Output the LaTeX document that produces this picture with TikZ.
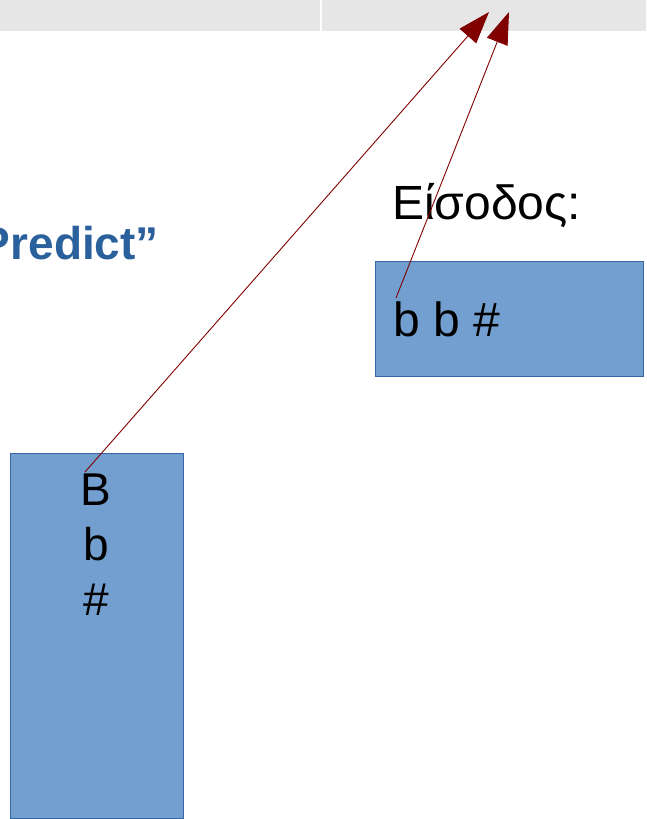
\documentclass[tikz,border=0pt]{standalone}
\usepackage{fontspec}
\setmainfont{Liberation Sans}
\usepackage{xcolor}
\usetikzlibrary{arrows.meta, positioning}

\definecolor{cellgray}{HTML}{E6E6E6}
\definecolor{boxfill}{HTML}{729FCF}
\definecolor{boxline}{HTML}{3465A4}
\definecolor{titleblue}{HTML}{2A609B}
\definecolor{arrowred}{HTML}{800000}

\tikzset{
    databox/.style={fill=boxfill, draw=boxline, line width=0.8pt},
    bigtext/.style={inner sep=0pt, font=\fontsize{48}{55}\selectfont},
    linkarrow/.style={arrowred, line width=0.9pt, -{Triangle[length=32pt, width=22pt]}}
}

\begin{document}
\begin{tikzpicture}[x=1pt, y=-1pt]
    \clip (0,0) rectangle (646,819);

    % Header row of the table
    \fill[cellgray] (0,0) rectangle (646,31);
    \draw[white, line width=1.2pt] (321,0) -- (321,31);

    % Title (runs off the left edge)
    \node[inner sep=0pt, anchor=base east, text=titleblue,
          font=\fontsize{46}{55}\selectfont\bfseries] (title) at (159,259) {Predict”};

    % Input (Right)
    \node[bigtext, anchor=base west] (inlabel) at (392,219) {Είσοδος:};
    \draw[databox] (375,261) rectangle (643,376);
    \node[bigtext, anchor=base west] (inseq) at (393,336) {b b \#};

    % Column (Left)
    \draw[databox] (10,453) rectangle (183,818);
    \foreach \ch [count=\i] in {B,b,\#}
        \node[bigtext, font=\fontsize{46}{55}\selectfont, anchor=base] (col\i) at (96,450+55*\i) {\ch};

    % Arrows up to the header
    \coordinate (tailB) at (85,472);
    \coordinate (tailb) at (396,298);
    \coordinate (tipB) at (489,12);
    \coordinate (tipb) at (509,12);
    \draw[linkarrow] (tailB) -- (tipB);
    \draw[linkarrow] (tailb) -- (tipb);
\end{tikzpicture}
\end{document}
